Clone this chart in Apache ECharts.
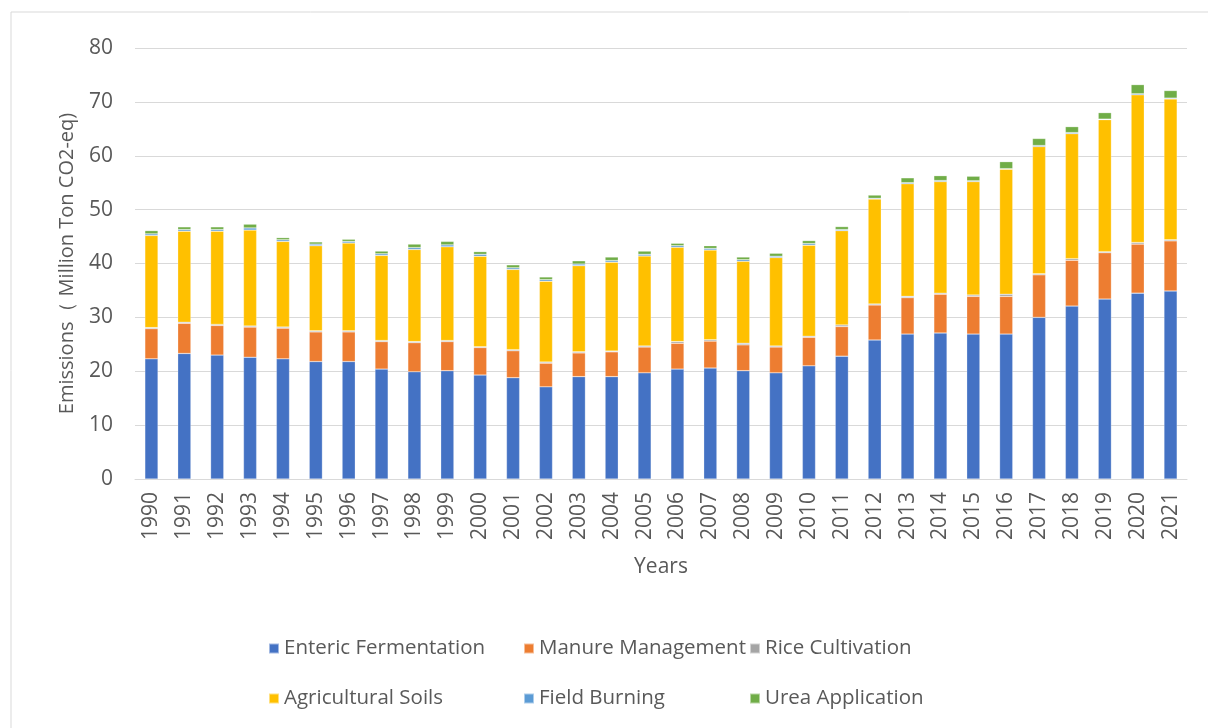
<!DOCTYPE html>
<html>
<head>
<meta charset="utf-8">
<script src="https://cdn.jsdelivr.net/npm/echarts@6/dist/echarts.min.js"></script>
<style>
  html, body { margin: 0; padding: 0; background: #fff; }
  #chart { width: 1208px; height: 728px; }
</style>
</head>
<body>
<div id="chart"></div>
<script>
// years on the x axis
const years = ['1990', '1991', '1992', '1993', '1994', '1995', '1996', '1997', '1998', '1999',
  '2000', '2001', '2002', '2003', '2004', '2005', '2006', '2007', '2008', '2009',
  '2010', '2011', '2012', '2013', '2014', '2015', '2016', '2017', '2018', '2019',
  '2020', '2021']

// emissions, million ton CO2-eq
const enteric = [22.3, 23.3, 23.0, 22.6, 22.3, 21.8, 21.8, 20.4, 19.9, 20.1,
  19.3, 18.8, 17.1, 19.0, 19.0, 19.7, 20.4, 20.6, 20.1, 19.7,
  21.0, 22.8, 25.8, 26.9, 27.1, 26.9, 26.9, 30.0, 32.1, 33.4,
  34.5, 34.9]
const manure = [5.6, 5.6, 5.5, 5.6, 5.7, 5.5, 5.5, 5.1, 5.4, 5.4,
  5.1, 5.0, 4.4, 4.4, 4.6, 4.8, 4.8, 5.0, 4.8, 4.8,
  5.3, 5.5, 6.5, 6.75, 7.2, 7.0, 7.0, 7.9, 8.5, 8.6,
  9.1, 9.3]
const rice = [0.2, 0.2, 0.2, 0.2, 0.2, 0.2, 0.2, 0.2, 0.2, 0.2,
  0.15, 0.2, 0.2, 0.2, 0.15, 0.2, 0.3, 0.25, 0.3, 0.2,
  0.2, 0.3, 0.2, 0.25, 0.2, 0.25, 0.4, 0.2, 0.3, 0.2,
  0.3, 0.2]
const soils = [17.1, 16.9, 17.3, 17.8, 15.9, 15.8, 16.3, 15.8, 17.1, 17.4,
  16.8, 14.9, 15.0, 16.0, 16.5, 16.7, 17.5, 16.65, 15.2, 16.4,
  16.9, 17.5, 19.45, 20.9, 20.7, 21.05, 23.2, 23.6, 23.2, 24.5,
  27.4, 26.15]
const burning = [0.3, 0.3, 0.3, 0.4, 0.3, 0.3, 0.3, 0.3, 0.35, 0.35,
  0.35, 0.3, 0.3, 0.3, 0.3, 0.3, 0.3, 0.3, 0.3, 0.25,
  0.3, 0.2, 0.15, 0.2, 0.2, 0.15, 0.1, 0.2, 0.2, 0.1,
  0.2, 0.15]
const urea = [0.6, 0.5, 0.5, 0.7, 0.4, 0.4, 0.4, 0.5, 0.65, 0.65,
  0.5, 0.55, 0.5, 0.6, 0.65, 0.6, 0.45, 0.5, 0.5, 0.55,
  0.55, 0.55, 0.6, 0.9, 0.9, 0.85, 1.3, 1.3, 1.1, 1.2,
  1.7, 1.4]

const seriesNames = ['Enteric Fermentation', 'Manure Management', 'Rice Cultivation',
  'Agricultural Soils', 'Field Burning', 'Urea Application']
const seriesData = [enteric, manure, rice, soils, burning, urea]
const colors = ['#4472C4', '#ED7D31', '#A5A5A5', '#FFC000', '#5B9BD5', '#70AD47']

const FONT = 'Open Sans'
const TEXT = '#595959'

// legend laid out as a 3x2 grid, one legend box per item
const legendCols = [263, 518, 744]
const legendRows = [633, 683]
const legends = seriesNames.map((name, i) => ({
  data: [name],
  left: legendCols[i % 3],
  top: legendRows[Math.floor(i / 3)],
  icon: 'rect',
  itemWidth: 10,
  itemHeight: 10,
  selectedMode: false,
  textStyle: { fontFamily: FONT, fontSize: 20.5, color: TEXT }
}))

const chart = echarts.init(document.getElementById('chart'))
chart.setOption({
  animation: false,
  color: colors,
  graphic: [{
    type: 'rect',
    shape: { x: 11, y: 12, width: 1220, height: 740 },
    style: { fill: 'none', stroke: '#d9d9d9', lineWidth: 1 },
    silent: true
  }],
  legend: legends,
  grid: { left: 135, right: 21, top: 48, bottom: 249 },
  xAxis: {
    type: 'category',
    data: years,
    name: 'Years',
    nameLocation: 'middle',
    nameGap: 78,
    nameTextStyle: { fontFamily: FONT, fontSize: 21, color: TEXT },
    axisLine: { lineStyle: { color: '#d9d9d9' } },
    axisTick: { show: false },
    axisLabel: { rotate: 90, margin: 13, fontFamily: FONT, fontSize: 21, color: TEXT }
  },
  yAxis: {
    type: 'value',
    min: 0,
    max: 80,
    interval: 10,
    name: 'Emissions（ Million Ton CO2-eq)',
    nameLocation: 'middle',
    nameGap: 58,
    nameTextStyle: { fontFamily: FONT, fontSize: 20, color: TEXT },
    axisLine: { show: false },
    axisTick: { show: false },
    axisLabel: { margin: 22, fontFamily: FONT, fontSize: 21, color: TEXT },
    splitLine: { lineStyle: { color: '#d9d9d9', width: 1 } }
  },
  series: seriesNames.map((name, i) => ({
    name: name,
    type: 'bar',
    stack: 'total',
    barWidth: '40%',
    data: seriesData[i],
    itemStyle: { borderColor: 'rgba(255,255,255,0.5)', borderWidth: 0.5 }
  }))
})
</script>
</body>
</html>
